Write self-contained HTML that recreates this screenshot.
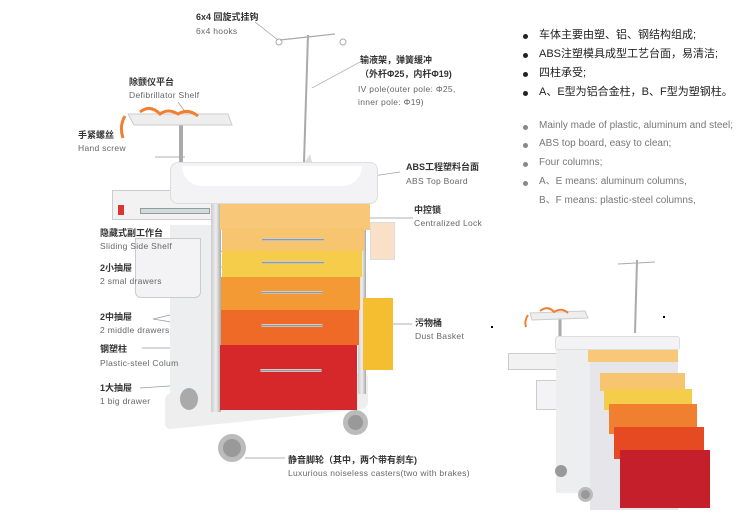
<!DOCTYPE html>
<html><head><meta charset="utf-8"><style>
body{margin:0;width:750px;height:532px;background:#fff;position:relative;overflow:hidden;font-family:"Liberation Sans","Noto Sans CJK SC",sans-serif}
div{position:absolute;box-sizing:border-box;line-height:1.2}
.cn{font-size:9px;font-weight:bold;color:#333;white-space:nowrap}
.en{font-size:8.5px;color:#666;white-space:nowrap;letter-spacing:.3px}
.h{height:3px;border-radius:2px;background:linear-gradient(#eee,#888,#ddd)}
.rl{font-size:11px;color:#222;white-space:nowrap;height:14px}
.rg{font-size:10px;color:#777;white-space:nowrap;height:13px}
.b{width:5px;height:5px;border-radius:50%}
</style></head><body>
<svg width="750" height="532" style="position:absolute;left:0;top:0">
<g stroke="#999" stroke-width="0.7" fill="none">
<line x1="255" y1="22" x2="278" y2="40"/>
<line x1="360" y1="62" x2="312" y2="88"/>
<line x1="178" y1="102" x2="188" y2="116"/>
<line x1="155" y1="157" x2="185" y2="157"/>
<line x1="400" y1="172" x2="305" y2="186"/>
<line x1="413" y1="218" x2="362" y2="218"/>
<line x1="160" y1="271" x2="235" y2="247"/>
<line x1="160" y1="271" x2="235" y2="266"/>
<line x1="153" y1="319" x2="234" y2="300"/>
<line x1="153" y1="319" x2="232" y2="332"/>
<line x1="142" y1="348" x2="213" y2="348"/>
<line x1="140" y1="388" x2="228" y2="382"/>
<line x1="245" y1="458" x2="285" y2="458"/>
<line x1="388" y1="324" x2="412" y2="324"/>
</g>
<g stroke="#aaa" stroke-width="2" fill="none">
<line x1="308" y1="35" x2="304" y2="162"/>
<path d="M280 40 L335 34" stroke-width="1.2"/>
<circle cx="279" cy="42" r="3" stroke-width="1"/><circle cx="343" cy="42" r="3" stroke-width="1"/>
<line x1="181" y1="125" x2="181" y2="165" stroke-width="4"/>
<line x1="637" y1="260" x2="635" y2="333"/>
<path d="M618 264 L655 262" stroke-width="1"/>
<line x1="560" y1="315" x2="560" y2="338" stroke-width="3"/>
</g>
<path d="M305 162 L310 154 L312 162Z" fill="#ddd"/>
<path d="M128 114 L228 114 L232 125 L134 125Z" fill="#eee" stroke="#ccc"/>
<path d="M140 112 q10 -8 20 2 q8 -6 18 0 q10 -6 20 2 M125 116 q-6 10 -2 22" stroke="#f08030" stroke-width="3" fill="none"/>
<path d="M530 313 L585 311 L588 318 L532 320Z" fill="#eee" stroke="#ccc"/>
<path d="M540 311 q8 -6 14 1 q8 -5 14 1 M528 315 q-4 6 -2 12" stroke="#f08030" stroke-width="2" fill="none"/>
</svg>
<div style="left:112px;top:190px;width:100px;height:30px;background:#f2f2f2;border:1px solid #ccc"></div>
<div style="left:118px;top:205px;width:6px;height:10px;background:#d33"></div>
<div style="left:140px;top:208px;width:70px;height:6px;background:#cdd;border:1px solid #999"></div>
<div style="left:170px;top:225px;width:48px;height:175px;background:#eceef0"></div>
<div style="left:135px;top:238px;width:66px;height:60px;background:#f3f3f5;border:1px solid #ccc;border-radius:0 0 6px 6px"></div>
<div style="left:165px;top:383px;width:203px;height:36px;background:#eee;border-radius:6px;transform:skewY(-6deg)"></div>
<div style="left:170px;top:162px;width:208px;height:42px;background:#f3f3f5;border:1px solid #ddd;border-radius:8px"></div>
<div style="left:182px;top:166px;width:180px;height:20px;background:#fff;border-radius:0 0 30px 30px"></div>
<div style="left:211px;top:204px;width:10px;height:208px;background:linear-gradient(90deg,#ccc,#eee,#aaa)"></div>
<div style="left:358px;top:204px;width:8px;height:190px;background:linear-gradient(90deg,#ccc,#eee,#aaa)"></div>
<div style="left:220px;top:204px;width:150px;height:26px;background:#f8c878"></div>
<div style="left:222px;top:228px;width:142px;height:23px;background:#f7c470"><div class="h" style="left:40px;top:10px;width:62px"></div></div>
<div style="left:222px;top:251px;width:140px;height:26px;background:#f5cd4a"><div class="h" style="left:40px;top:10px;width:62px"></div></div>
<div style="left:221px;top:277px;width:139px;height:33px;background:#f49a34"><div class="h" style="left:40px;top:14px;width:62px"></div></div>
<div style="left:221px;top:310px;width:138px;height:35px;background:#ef6a27"><div class="h" style="left:40px;top:14px;width:62px"></div></div>
<div style="left:220px;top:345px;width:137px;height:65px;background:#d6282b"><div class="h" style="left:40px;top:24px;width:62px"></div></div>
<div style="left:363px;top:298px;width:30px;height:72px;background:#f5be30"></div>
<div style="left:370px;top:222px;width:25px;height:38px;background:#fbe0c8;border:1px solid #ddd"></div>
<div style="left:218px;top:434px;width:28px;height:28px;border-radius:50%;background:#999;border:5px solid #bbb"></div>
<div style="left:343px;top:410px;width:25px;height:25px;border-radius:50%;background:#999;border:5px solid #bbb"></div>
<div style="left:180px;top:388px;width:18px;height:22px;border-radius:50%;background:#aaa"></div>
<div style="left:508px;top:353px;width:72px;height:17px;background:#f2f2f2;border:1px solid #ccc"></div>
<div style="left:536px;top:380px;width:40px;height:30px;background:#f3f3f5;border:1px solid #ccc"></div>
<div style="left:556px;top:338px;width:36px;height:155px;background:#eceef0"></div>
<div style="left:555px;top:336px;width:125px;height:14px;background:#f3f3f5;border:1px solid #ddd;border-radius:3px"></div>
<div style="left:590px;top:350px;width:88px;height:160px;background:#e6e6ea"></div>
<div style="left:588px;top:350px;width:90px;height:12px;background:#f8c878"></div>
<div style="left:600px;top:373px;width:85px;height:18px;background:#f7c470"></div>
<div style="left:604px;top:389px;width:88px;height:21px;background:#f5cd4a"></div>
<div style="left:609px;top:404px;width:88px;height:30px;background:#f08030"></div>
<div style="left:614px;top:427px;width:90px;height:32px;background:#e64a22"></div>
<div style="left:620px;top:450px;width:90px;height:58px;background:#c41f2a"></div>
<div style="left:578px;top:487px;width:15px;height:15px;border-radius:50%;background:#999;border:3px solid #bbb"></div>
<div style="left:555px;top:465px;width:12px;height:12px;border-radius:50%;background:#999"></div>
<div style="left:663px;top:316px;width:2px;height:2px;background:#000"></div>
<div style="left:491px;top:326px;width:2px;height:2px;background:#000"></div>
<div class="cn" style="left:196px;top:12px">6x4 回旋式挂钩</div>
<div class="en" style="left:196px;top:26px">6x4 hooks</div>
<div class="cn" style="left:360px;top:55px">输液架，弹簧缓冲</div>
<div class="cn" style="left:360px;top:69px">（外杆Φ25，内杆Φ19)</div>
<div class="en" style="left:358px;top:84px">IV pole(outer pole: Φ25,</div>
<div class="en" style="left:358px;top:97px">inner pole: Φ19)</div>
<div class="cn" style="left:129px;top:77px">除颤仪平台</div>
<div class="en" style="left:129px;top:90px">Defibrillator Shelf</div>
<div class="cn" style="left:78px;top:130px">手紧螺丝</div>
<div class="en" style="left:78px;top:143px">Hand screw</div>
<div class="cn" style="left:406px;top:162px">ABS工程塑料台面</div>
<div class="en" style="left:406px;top:176px">ABS Top Board</div>
<div class="cn" style="left:414px;top:205px">中控锁</div>
<div class="en" style="left:414px;top:218px">Centralized Lock</div>
<div class="cn" style="left:100px;top:228px">隐藏式副工作台</div>
<div class="en" style="left:100px;top:241px">Sliding Side Shelf</div>
<div class="cn" style="left:100px;top:263px">2小抽屉</div>
<div class="en" style="left:100px;top:276px">2 smal drawers</div>
<div class="cn" style="left:100px;top:312px">2中抽屉</div>
<div class="en" style="left:100px;top:325px">2 middle drawers</div>
<div class="cn" style="left:100px;top:344px">钢塑柱</div>
<div class="en" style="left:100px;top:358px">Plastic-steel Colum</div>
<div class="cn" style="left:100px;top:383px">1大抽屉</div>
<div class="en" style="left:100px;top:396px">1 big drawer</div>
<div class="cn" style="left:415px;top:318px">污物桶</div>
<div class="en" style="left:415px;top:331px">Dust Basket</div>
<div class="cn" style="left:288px;top:455px">静音脚轮（其中，两个带有刹车)</div>
<div class="en" style="left:288px;top:468px">Luxurious noiseless casters(two with brakes)</div>
<div class="b" style="left:523px;top:34px;background:#222"></div><div class="rl" style="left:539px;top:29px">车体主要由塑、铝、钢结构组成;</div>
<div class="b" style="left:523px;top:53px;background:#222"></div><div class="rl" style="left:539px;top:48px">ABS注塑模具成型工艺台面，易清洁;</div>
<div class="b" style="left:523px;top:72px;background:#222"></div><div class="rl" style="left:539px;top:67px">四柱承受;</div>
<div class="b" style="left:523px;top:91px;background:#222"></div><div class="rl" style="left:539px;top:86px">A、E型为铝合金柱，B、F型为塑钢柱。</div>
<div class="b" style="left:523px;top:125px;background:#888"></div><div class="rg" style="left:539px;top:120px">Mainly made of plastic, aluminum and steel;</div>
<div class="b" style="left:523px;top:143px;background:#888"></div><div class="rg" style="left:539px;top:138px">ABS top board, easy to clean;</div>
<div class="b" style="left:523px;top:162px;background:#888"></div><div class="rg" style="left:539px;top:157px">Four columns;</div>
<div class="b" style="left:523px;top:181px;background:#888"></div><div class="rg" style="left:539px;top:176px">A、E means: aluminum columns,</div>
<div class="rg" style="left:539px;top:195px">B、F means: plastic-steel columns,</div>
</body></html>
